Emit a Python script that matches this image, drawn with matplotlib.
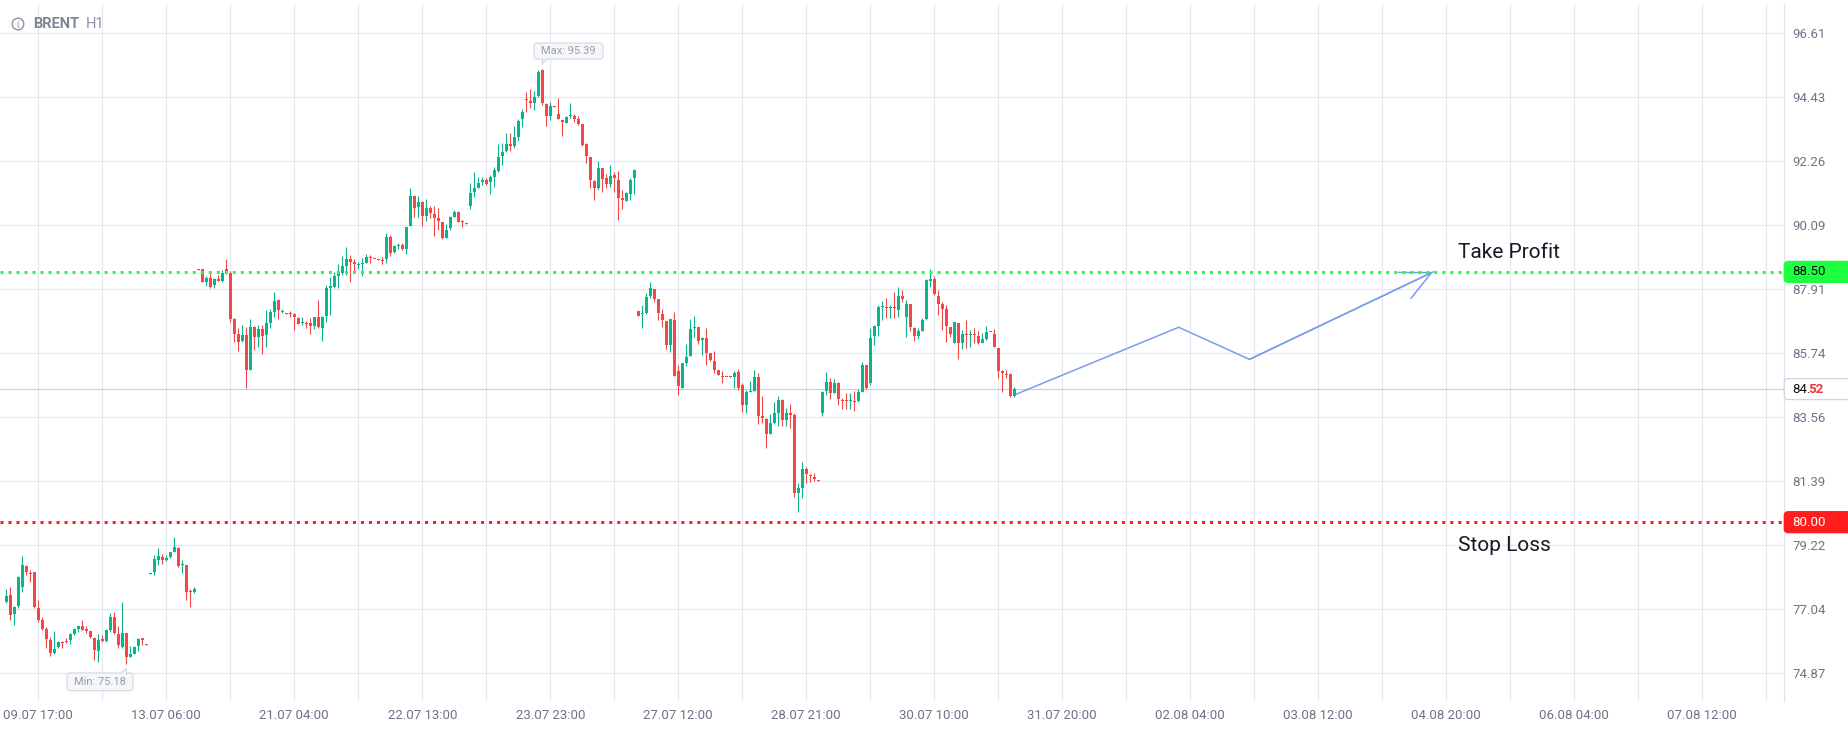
import matplotlib
matplotlib.use("Agg")
import matplotlib.pyplot as plt
import matplotlib.transforms as mtransforms
from matplotlib.patches import Circle, FancyBboxPatch, Polygon
from matplotlib.lines import Line2D
from matplotlib.text import Annotation
import numpy as np

plt.rcParams["font.family"] = ["Roboto", "DejaVu Sans"]

# BRENT H1 candles, one entry per hour bar
opens = [
    77.30, 77.53, 76.88, 77.15, 77.81, 78.52, 78.28, 78.31, 77.07, 76.68,
    76.37, 76.00, 75.57, 75.75, 75.93, 75.96, 76.00, 76.19, 76.38, 76.48,
    76.37, 76.30, 76.05, 75.64, 76.03, 75.98, 76.34, 76.77, 76.19, 75.77,
    76.22, 75.43, 75.52, 75.79, 76.05, 75.85, 78.25, 78.32, 78.71, 78.83,
    78.71, 78.83, 79.00, 79.13, 78.56, 78.55, 77.66, 77.64,
    88.60, 88.60, 88.16, 88.29, 88.07, 88.25, 88.19, 88.60, 88.47, 86.90,
    86.40, 86.17, 86.36, 85.17, 86.63, 86.28, 86.56, 86.36, 86.77, 87.13,
    87.55, 87.14, 87.11, 87.11, 87.07, 86.94, 86.77, 86.78, 86.78, 86.66,
    86.97, 86.61, 87.00, 87.97, 87.98, 88.36, 88.47, 88.71, 88.94, 88.85,
    88.74, 88.77, 88.81, 89.01, 88.95, 88.93, 88.91, 88.93, 89.69, 89.16,
    89.38, 89.40, 89.29, 90.06,
    91.08, 90.70, 90.89, 90.41, 90.67, 90.47, 90.33, 90.19, 89.64, 90.00,
    90.38, 90.54, 90.20, 90.16, 90.75, 91.23, 91.36, 91.54, 91.63, 91.57,
    91.74, 91.94, 92.44, 92.62, 92.84, 92.76, 93.07, 93.70, 94.36, 94.31,
    94.23, 94.49, 95.36, 94.20, 93.81, 94.14, 93.86, 93.66, 93.57, 93.78,
    93.80, 93.68, 93.51, 92.85, 92.42, 91.60, 91.34, 92.04, 91.68, 91.49,
    91.80, 91.62, 91.02, 90.92, 91.16, 91.68,
    87.17, 87.07, 87.12, 87.68, 87.92, 87.58, 87.07, 86.83, 86.02, 86.87,
    85.15, 84.57, 85.40, 85.64, 86.58, 86.62, 86.18, 86.24, 85.76, 85.47,
    85.17, 84.97, 84.94, 84.97, 84.94, 85.11, 84.66, 83.98, 84.43, 84.46,
    84.94, 83.61, 83.49, 83.00, 83.38, 83.72, 84.15, 83.47, 83.70, 83.64,
    81.00, 81.17, 81.81, 81.60, 81.52, 81.43, 83.70, 84.47, 84.75, 84.40,
    84.74, 84.15, 84.15, 84.11, 84.12, 84.12, 84.43, 85.34, 84.72, 86.34,
    86.66, 87.32, 87.30, 87.28, 87.29, 87.21, 87.69, 86.98, 87.40, 86.61,
    86.34, 86.51, 86.90, 88.20, 88.26, 87.69, 87.41, 87.24, 86.64, 86.10,
    86.75, 86.10, 86.38, 86.35, 86.38, 86.32, 86.10, 86.21, 86.47, 86.39,
    85.91, 85.15, 85.02, 85.03, 84.29,
]
highs = [
    77.72, 77.79, 77.15, 78.17, 78.86, 78.55, 78.38, 78.32, 77.36, 76.77,
    76.45, 76.11, 76.30, 75.96, 75.96, 76.05, 76.22, 76.42, 76.47, 76.68,
    76.48, 76.32, 76.09, 76.19, 76.17, 76.36, 76.90, 76.96, 76.48, 77.30,
    76.25, 75.79, 75.79, 76.05, 76.08, 75.85, 78.27, 78.88, 79.11, 78.91,
    78.88, 79.00, 79.51, 79.17, 78.71, 78.55, 77.73, 77.79,
    88.60, 88.60, 88.36, 88.53, 88.28, 88.40, 88.57, 88.94, 88.53, 86.92,
    86.59, 86.70, 86.64, 86.90, 86.68, 86.70, 86.70, 87.21, 87.23, 87.81,
    87.58, 87.23, 87.11, 87.17, 87.09, 86.96, 86.98, 86.83, 86.92, 86.98,
    87.55, 87.00, 88.06, 88.34, 88.51, 88.77, 89.04, 89.34, 89.08, 88.94,
    88.85, 88.98, 89.10, 89.09, 88.95, 88.93, 89.02, 89.83, 89.75, 89.41,
    89.47, 89.49, 90.04, 91.34,
    91.10, 91.09, 90.92, 90.98, 90.75, 90.75, 90.68, 90.19, 90.12, 90.40,
    90.59, 90.57, 90.26, 90.16, 91.53, 91.88, 91.74, 91.74, 91.69, 91.79,
    92.08, 92.84, 92.89, 93.23, 93.21, 93.46, 93.68, 94.02, 94.62, 94.71,
    94.65, 95.36, 95.39, 94.23, 94.28, 94.14, 94.40, 93.66, 93.81, 94.25,
    93.86, 93.78, 93.53, 92.87, 92.42, 91.62, 92.27, 92.04, 91.83, 92.13,
    91.91, 91.93, 91.28, 91.23, 91.68, 91.98,
    87.17, 87.38, 87.80, 88.17, 87.92, 87.58, 87.24, 86.83, 86.89, 87.15,
    85.34, 85.42, 86.05, 86.89, 87.00, 86.64, 86.28, 86.61, 85.76, 85.81,
    85.17, 85.14, 84.94, 84.97, 85.15, 85.19, 84.74, 84.49, 84.80, 85.17,
    85.08, 84.29, 83.53, 83.66, 84.09, 84.29, 84.17, 83.87, 84.01, 83.70,
    81.34, 82.06, 81.89, 81.64, 81.68, 81.43, 84.47, 85.11, 84.91, 84.86,
    84.77, 84.21, 84.38, 84.38, 84.46, 84.51, 85.45, 85.34, 86.61, 86.70,
    87.38, 87.52, 87.60, 87.38, 87.83, 88.00, 87.89, 87.55, 87.40, 86.64,
    86.61, 86.95, 88.27, 88.60, 88.37, 87.89, 87.49, 87.38, 86.64, 86.81,
    86.78, 86.53, 86.87, 86.53, 86.58, 86.51, 86.41, 86.66, 86.47, 86.56,
    85.93, 85.17, 85.17, 85.06, 84.60,
]
lows = [
    77.27, 76.68, 76.52, 77.07, 77.64, 78.21, 77.98, 77.10, 76.62, 76.34,
    75.71, 75.45, 75.52, 75.71, 75.71, 75.88, 75.86, 76.16, 76.28, 76.34,
    76.22, 76.05, 75.32, 75.26, 75.92, 75.92, 76.28, 76.20, 75.74, 75.74,
    75.18, 75.43, 75.52, 75.64, 75.83, 75.83, 78.25, 78.21, 78.55, 78.57,
    78.68, 78.79, 78.98, 78.49, 78.26, 77.36, 77.13, 77.61,
    88.58, 88.17, 88.03, 87.97, 87.97, 88.20, 88.16, 88.43, 86.79, 86.12,
    85.83, 86.11, 84.57, 85.17, 85.85, 85.96, 85.72, 85.96, 86.59, 86.98,
    86.91, 87.09, 87.08, 86.98, 86.54, 86.73, 86.71, 86.59, 86.40, 86.55,
    86.59, 86.15, 86.81, 87.04, 87.97, 87.94, 88.40, 88.40, 88.17, 88.51,
    88.61, 88.36, 88.79, 88.79, 88.93, 88.91, 88.76, 88.81, 89.04, 89.13,
    89.29, 89.25, 89.12, 90.06,
    90.38, 90.38, 90.07, 90.24, 90.32, 89.73, 89.92, 89.61, 89.64, 89.92,
    90.37, 90.20, 90.03, 90.14, 90.65, 91.06, 91.34, 91.45, 91.45, 91.15,
    91.37, 91.91, 92.13, 92.59, 92.62, 92.72, 92.96, 93.41, 93.94, 94.06,
    94.00, 94.45, 94.17, 93.44, 93.66, 94.11, 93.70, 93.13, 93.57, 93.72,
    93.58, 93.49, 92.76, 92.19, 91.36, 90.94, 91.28, 91.23, 91.34, 91.40,
    91.23, 90.26, 90.64, 90.92, 90.94, 91.15,
    87.01, 86.61, 87.06, 87.60, 87.49, 86.87, 86.64, 85.88, 85.79, 84.97,
    84.32, 84.57, 85.31, 85.64, 86.30, 86.05, 85.68, 85.34, 85.49, 85.08,
    85.00, 84.74, 84.92, 84.94, 84.57, 84.49, 83.75, 83.72, 84.43, 84.46,
    83.34, 83.38, 82.53, 83.00, 83.35, 83.27, 83.27, 83.27, 83.19, 80.87,
    80.36, 80.81, 81.32, 81.38, 81.41, 81.41, 83.62, 84.32, 84.17, 84.40,
    83.98, 83.84, 83.84, 83.84, 83.78, 84.09, 84.43, 84.51, 84.66, 86.02,
    86.32, 86.85, 86.92, 86.95, 86.95, 86.98, 87.47, 86.28, 86.49, 86.17,
    86.21, 86.51, 86.85, 88.00, 87.72, 87.04, 86.53, 86.13, 86.28, 86.08,
    85.54, 85.87, 85.91, 85.96, 86.08, 86.05, 86.08, 86.19, 86.45, 85.96,
    84.91, 84.43, 84.89, 84.26, 84.26,
]
closes = [
    77.49, 76.85, 77.13, 78.15, 78.55, 78.30, 78.25, 77.13, 76.68, 76.38,
    76.02, 75.57, 75.69, 75.93, 75.91, 75.93, 76.19, 76.38, 76.46, 76.34,
    76.30, 76.09, 75.66, 76.00, 75.98, 76.34, 76.79, 76.22, 75.83, 76.22,
    75.43, 75.51, 75.77, 76.03, 76.00, 75.83, 78.27, 78.75, 78.86, 78.71,
    78.79, 78.98, 79.17, 78.52, 78.58, 77.64, 77.63, 77.73,
    88.58, 88.17, 88.29, 88.00, 88.25, 88.20, 88.45, 88.45, 86.90, 86.40,
    86.13, 86.36, 85.17, 86.63, 86.28, 86.56, 86.34, 86.77, 87.14, 87.51,
    87.19, 87.16, 87.08, 87.08, 86.98, 86.74, 86.80, 86.74, 86.68, 86.97,
    86.63, 86.97, 87.97, 88.00, 88.36, 88.51, 88.70, 88.94, 88.85, 88.77,
    88.76, 88.79, 88.99, 88.98, 88.93, 88.91, 88.88, 89.68, 89.13, 89.39,
    89.40, 89.27, 90.02, 91.08,
    90.68, 90.89, 90.41, 90.67, 90.51, 90.34, 90.24, 89.64, 89.94, 90.38,
    90.54, 90.21, 90.18, 90.14, 91.17, 91.36, 91.53, 91.63, 91.47, 91.74,
    91.96, 92.42, 92.59, 92.84, 92.76, 93.07, 93.64, 93.94, 94.34, 94.25,
    94.45, 95.30, 94.23, 93.78, 94.14, 94.11, 93.70, 93.60, 93.75, 93.80,
    93.70, 93.53, 92.81, 92.44, 91.62, 91.36, 92.02, 91.66, 91.49, 91.77,
    91.70, 91.02, 90.94, 91.17, 91.62, 91.96,
    87.01, 87.12, 87.66, 87.97, 87.58, 87.12, 86.87, 86.02, 86.89, 84.97,
    84.63, 85.40, 85.60, 86.56, 86.62, 86.17, 86.24, 85.76, 85.51, 85.17,
    85.00, 84.94, 84.92, 84.94, 85.08, 84.57, 83.98, 84.43, 84.47, 84.94,
    83.61, 83.55, 83.00, 83.38, 83.72, 84.15, 83.47, 83.70, 83.64, 81.00,
    81.17, 81.81, 81.64, 81.58, 81.46, 81.41, 84.43, 84.77, 84.40, 84.74,
    84.17, 84.13, 84.13, 84.13, 84.09, 84.43, 85.34, 84.57, 86.27, 86.67,
    87.32, 87.34, 87.28, 87.30, 87.26, 87.69, 87.58, 87.40, 86.64, 86.34,
    86.49, 86.87, 88.23, 88.26, 87.74, 87.41, 87.24, 86.66, 86.39, 86.79,
    86.10, 86.39, 86.35, 86.38, 86.35, 86.10, 86.21, 86.47, 86.45, 85.96,
    85.15, 85.06, 84.99, 84.29, 84.52,
]

price_ticks = [74.87, 77.04, 79.22, 81.39, 83.56, 85.74, 87.91, 90.09, 92.26, 94.43, 96.61]
time_labels = [
    "09.07 17:00", "13.07 06:00", "21.07 04:00", "22.07 13:00", "23.07 23:00",
    "27.07 12:00", "28.07 21:00", "30.07 10:00", "31.07 20:00", "02.08 04:00",
    "03.08 12:00", "04.08 20:00", "06.08 04:00", "07.08 12:00",
]

take_profit = 88.50
stop_loss = 80.00
last_price = 84.52
max_bar, max_price = 134, 95.39
min_bar, min_price = 30, 75.18

# hand drawn forecast: bar position, price
path_x = [252.5, 293.1, 310.8, 356.7]
path_y = [84.35, 86.62, 85.53, 88.50]

UP = "#0db38a"
DOWN = "#f04747"
GRID = "#e3e8f3"
TXT = "#6c7485"

W, H = 1848, 729
fig = plt.figure(figsize=(W / 100, H / 100), dpi=100, facecolor="white")
ax = fig.add_axes([0, 28 / H, 1784 / W, 697 / H])

o = np.array(opens)
hi = np.array(highs)
lo = np.array(lows)
c = np.array(closes)
bars = np.arange(len(o))
cols = np.where(c >= o, UP, DOWN)
ax.vlines(bars, lo, hi, colors=cols, linewidth=0.8, zorder=3)
ax.bar(bars, np.maximum(np.abs(c - o), 0.035), bottom=np.minimum(o, c),
       width=0.78, color=cols, linewidth=0, zorder=4)

ax.set_xlim(-1.575, 444.43)
ax.set_ylim(73.926, 97.60)

ax.set_xticks(np.arange(8, 8 + 32 * len(time_labels), 32), time_labels)
ax.set_xticks(np.arange(8, 444, 16), minor=True)
ax.set_yticks(price_ticks, [f"{v:.2f}" for v in price_ticks])
ax.yaxis.tick_right()
ax.tick_params(which="both", length=0, labelsize=9.5, labelcolor=TXT)
ax.tick_params(axis="y", pad=6)
ax.tick_params(axis="x", pad=5.5)
ax.grid(which="both", color=GRID, linewidth=0.9)
ax.set_axisbelow(True)
for side in ("top", "left", "bottom"):
    ax.spines[side].set_visible(False)
ax.spines["right"].set_color("#dde2ee")
ax.spines["right"].set_linewidth(0.9)

# levels
dots = (0, (1, 1.67))
ax.axhline(take_profit, color="#1eff40", lw=2.16, ls=dots, dash_capstyle="butt", zorder=5)
ax.axhline(stop_loss, color="#ff1d1d", lw=2.16, ls=dots, dash_capstyle="butt", zorder=5)
ax.axhline(last_price, color="#cbd1e2", lw=0.9, zorder=2)

# forecast path + arrow head
PATH = "#7a9ee8"
ax.plot(path_x, path_y, color=PATH, lw=1.1, zorder=6)
ax.annotate("", xy=(path_x[-1], path_y[-1]), xytext=(path_x[-2], path_y[-2]),
            arrowprops=dict(arrowstyle="->,head_length=2.14,head_width=1.04",
                            color=PATH, lw=1.1, shrinkA=0, shrinkB=0, mutation_scale=10))

ax.text(363, 88.96, "Take Profit", fontsize=15, color="#161a25", va="baseline", zorder=7)
ax.text(363, 79.02, "Stop Loss", fontsize=15, color="#161a25", va="baseline", zorder=7)


def anchored(x, y, base):
    # offsets in inches (1 unit = 100 px) around a point given in `base` coords
    return fig.dpi_scale_trans + mtransforms.ScaledTranslation(x, y, base)


# price badges on the right scale
edge = mtransforms.blended_transform_factory(ax.transAxes, ax.transData)


def badge(price, face, border, label, color):
    t = anchored(1.0, price, edge)
    fig.add_artist(FancyBboxPatch((0.003, -0.105), 0.8, 0.21,
                                  boxstyle="round,pad=0,rounding_size=0.04",
                                  fc=face, ec=border, lw=0.9, transform=t))
    return fig.text(0.085, 0, label, transform=t, ha="left", va="center",
                    fontsize=9.5, color=color)


badge(take_profit, "#1eff40", "#1eff40", f"{take_profit:.2f}", "#0c0f14")
badge(stop_loss, "#ff1d1d", "#ff1d1d", f"{stop_loss:.2f}", "white")
head, tail = f"{last_price:.2f}"[:3], f"{last_price:.2f}"[3:]
t_head = badge(last_price, "white", "#cfd5e3", head, "#0c0f14")
fig.add_artist(Annotation(tail, xy=(1, 0.5), xycoords=t_head, xytext=(-2.5, 0),
                          textcoords="offset pixels", ha="left", va="center",
                          fontsize=9.5, color="#f0353b", fontweight="bold"))


# max / min callouts
def callout(bar, price, label, box, tip):
    t = anchored(bar, price, ax.transData)
    x0, y0, w, h = [v / 100 for v in box]
    face, line = "#f6f7fa", "#d3d8e1"
    fig.add_artist(FancyBboxPatch((x0, y0), w, h, boxstyle="round,pad=0,rounding_size=0.03",
                                  fc=face, ec=line, lw=0.8, transform=t))
    tri = np.array(tip) / 100
    fig.add_artist(Polygon(tri, closed=True, fc=face, ec="none", transform=t))
    fig.add_artist(Line2D(tri[1:, 0], tri[1:, 1], color=line, lw=0.8, transform=t))
    fig.add_artist(Line2D(tri[[0, 1], 0], tri[[0, 1], 1], color=line, lw=0.8, transform=t))
    fig.text(x0 + w / 2, y0 + h / 2, label, transform=t, ha="center", va="center",
             fontsize=8, color="#979eab")


callout(max_bar, max_price, f"Max: {max_price:.2f}", (-8.3, 10, 69, 16),
        [(6, 10.8), (0, 5.5), (0, 10.8)])
callout(min_bar, min_price, f"Min: {min_price:.2f}", (-59.3, -26.6, 66, 17.7),
        [(-6, -9.7), (0, -4.5), (0, -9.7)])

# header
fig.add_artist(Circle((18 / 100, (H - 24) / 100), 0.058, transform=fig.dpi_scale_trans,
                      fill=False, ec="#8b93a3", lw=1.0))
fig.text(18 / W, 1 - 24.5 / H, "i", ha="center", va="center", fontsize=7, color="#8b93a3")
fig.text(33 / W, 1 - 24 / H, "BRENT", ha="left", va="center", fontsize=10.5,
         fontweight="bold", color="#7f8797")
fig.text(86 / W, 1 - 24 / H, "H1", ha="left", va="center", fontsize=10.5, color="#8b93a3")

fig.savefig("out.png", dpi=100, facecolor="white")
